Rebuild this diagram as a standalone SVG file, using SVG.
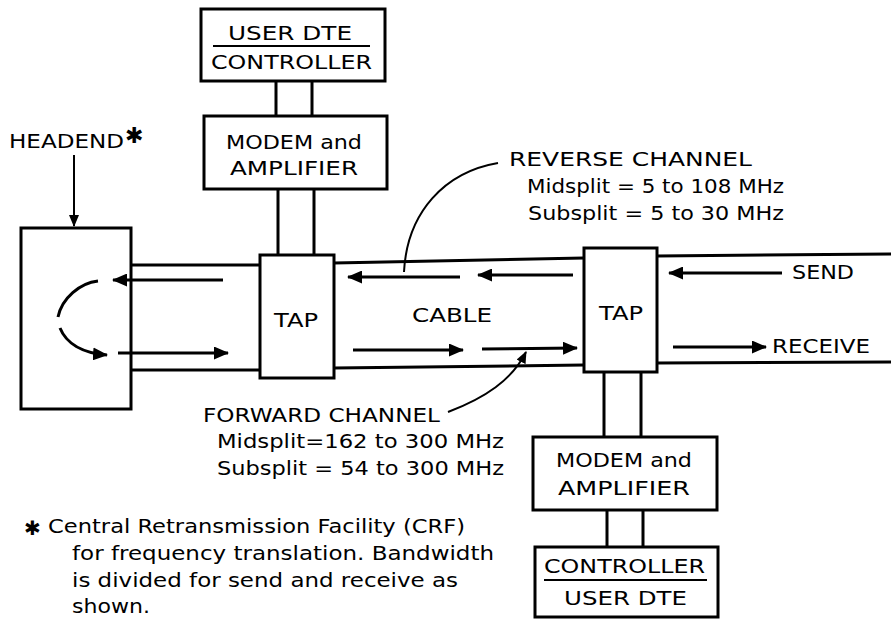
<svg xmlns="http://www.w3.org/2000/svg" width="891" height="619" viewBox="0 0 891 619">
<style>
.box{fill:#fff;stroke:#000;stroke-width:3}
.ln{fill:none;stroke:#000;stroke-width:3}
.ar{fill:none;stroke:#000;stroke-width:3;marker-end:url(#ah)}
.lead{fill:none;stroke:#000;stroke-width:2}
text{font-family:"DejaVu Sans","Liberation Sans",sans-serif;font-size:19px;fill:#000}
.sm{font-size:18px}
</style>
<defs>
<marker id="ah" markerUnits="userSpaceOnUse" markerWidth="15" markerHeight="13" refX="14" refY="6.5" orient="auto"><path d="M0,0 L15,6.5 L0,13 Z" fill="#000"/></marker>
<marker id="ahs" markerUnits="userSpaceOnUse" markerWidth="12" markerHeight="10" refX="11" refY="5" orient="auto"><path d="M0,0 L12,5 L0,10 Z" fill="#000"/></marker>
</defs>

<g id="connectors">
  <!-- cable lines -->
  <path class="ln" d="M131,265 L260,265 M334,263 L584,258 M657,256 L891,254"/>
  <path class="ln" d="M131,370 L260,370 M334,368 L584,365 M657,363 L891,362"/>
  <!-- vertical pair lines -->
  <path class="ln" d="M276,81 L276,117 M312,81 L312,117"/>
  <path class="ln" d="M278,189 L278,256 M314,189 L314,256"/>
  <path class="ln" d="M604,372 L604,437 M641,372 L641,437"/>
  <path class="ln" d="M607,510 L607,547 M643,510 L643,547"/>
  <!-- headend pointer -->
  <path class="lead" d="M74,155 L74,226" marker-end="url(#ahs)"/>
  <!-- reverse arrows -->
  <path class="ar" d="M223,280 L113,280"/>
  <path class="ar" d="M460,277 L348,277"/>
  <path class="ar" d="M573,275 L478,275"/>
  <path class="ar" d="M782,273 L669,273"/>
  <!-- forward arrows -->
  <path class="ar" d="M118,353 L228,353"/>
  <path class="ar" d="M353,350 L463,350"/>
  <path class="ar" d="M482,349 L577,348"/>
  <path class="ar" d="M673,347 L766,347"/>
  <!-- headend loop -->
  <path class="ln" d="M98,281 C80,283 62,298 58,317"/>
  <path class="ar" d="M60,328 C66,343 82,353 107,355"/>
  <!-- leaders -->
  <path class="lead" d="M498,163 C445,172 407,212 404,272"/>
  <path class="lead" d="M448,412 C485,398 512,380 526,352" marker-end="url(#ahs)"/>
</g>

<g id="headend">
  <rect class="box" x="21" y="228" width="110" height="181" fill="none" style="fill:none"/>
</g>
<g id="headend-label">
  <text x="9" y="148" textLength="115" lengthAdjust="spacingAndGlyphs">HEADEND</text>
  <text x="125" y="143" style="font-size:22px">✱</text>
</g>

<g id="user-dte-top">
  <rect class="box" x="201" y="9" width="184" height="72"/>
  <text x="228" y="40" textLength="124" lengthAdjust="spacingAndGlyphs">USER DTE</text>
  <line x1="213" y1="46" x2="370" y2="46" stroke="#000" stroke-width="2"/>
  <text x="211" y="69" textLength="161" lengthAdjust="spacingAndGlyphs">CONTROLLER</text>
</g>

<g id="modem-top">
  <rect class="box" x="204" y="116" width="183" height="73"/>
  <text x="226" y="149" textLength="136" lengthAdjust="spacingAndGlyphs">MODEM and</text>
  <text x="230" y="175" textLength="128" lengthAdjust="spacingAndGlyphs">AMPLIFIER</text>
</g>

<g id="tap-left">
  <rect class="box" x="260" y="255" width="74" height="123"/>
  <text x="274" y="327" textLength="44" lengthAdjust="spacingAndGlyphs">TAP</text>
</g>

<g id="tap-right">
  <rect class="box" x="584" y="248" width="73" height="124"/>
  <text x="599" y="320" textLength="44" lengthAdjust="spacingAndGlyphs">TAP</text>
</g>

<g id="modem-bottom">
  <rect class="box" x="533" y="437" width="184" height="73"/>
  <text x="556" y="467" textLength="136" lengthAdjust="spacingAndGlyphs">MODEM and</text>
  <text x="558" y="495" textLength="132" lengthAdjust="spacingAndGlyphs">AMPLIFIER</text>
</g>

<g id="user-dte-bottom">
  <rect class="box" x="535" y="547" width="183" height="70"/>
  <text x="544" y="573" textLength="161" lengthAdjust="spacingAndGlyphs">CONTROLLER</text>
  <line x1="544" y1="580" x2="707" y2="580" stroke="#000" stroke-width="2"/>
  <text x="564" y="605" textLength="123" lengthAdjust="spacingAndGlyphs">USER DTE</text>
</g>

<g id="labels">
  <text x="412" y="322" textLength="80" lengthAdjust="spacingAndGlyphs">CABLE</text>
  <text x="509" y="166" textLength="243" lengthAdjust="spacingAndGlyphs">REVERSE  CHANNEL</text>
  <text x="527" y="193" textLength="257" lengthAdjust="spacingAndGlyphs">Midsplit = 5 to 108 MHz</text>
  <text x="528" y="220" textLength="256" lengthAdjust="spacingAndGlyphs">Subsplit = 5 to 30 MHz</text>
  <text x="792" y="279" textLength="62" lengthAdjust="spacingAndGlyphs">SEND</text>
  <text x="772" y="353" textLength="98" lengthAdjust="spacingAndGlyphs">RECEIVE</text>
  <text x="203" y="422" textLength="237" lengthAdjust="spacingAndGlyphs">FORWARD CHANNEL</text>
  <text x="217" y="448" textLength="287" lengthAdjust="spacingAndGlyphs">Midsplit=162 to 300 MHz</text>
  <text x="217" y="475" textLength="287" lengthAdjust="spacingAndGlyphs">Subsplit = 54 to 300 MHz</text>
  <text x="24" y="535" style="font-size:20px">✱</text>
  <text x="48" y="533" textLength="417" lengthAdjust="spacingAndGlyphs">Central Retransmission Facility (CRF)</text>
  <text x="72" y="560" textLength="422" lengthAdjust="spacingAndGlyphs">for frequency translation. Bandwidth</text>
  <text x="72" y="587" textLength="386" lengthAdjust="spacingAndGlyphs">is divided for send and receive as</text>
  <text x="72" y="613" textLength="78" lengthAdjust="spacingAndGlyphs">shown.</text>
</g>
</svg>
